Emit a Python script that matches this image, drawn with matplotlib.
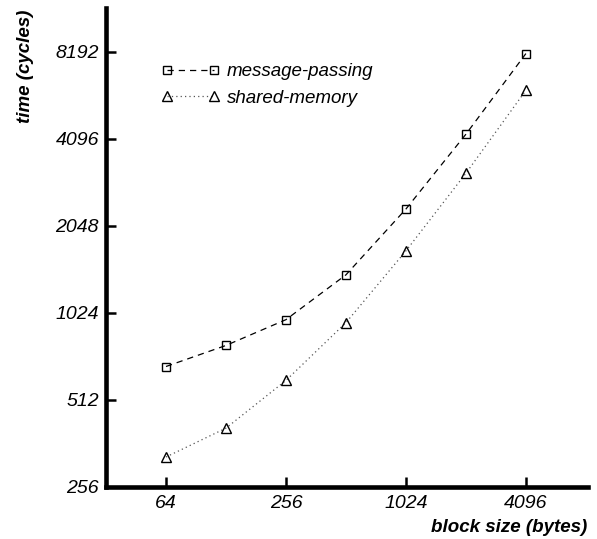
import matplotlib
matplotlib.use("Agg")
import matplotlib.pyplot as plt
from matplotlib.ticker import FixedLocator, NullLocator

plt.rcParams["font.family"] = ["Liberation Sans", "DejaVu Sans"]

block_sizes = [64, 128, 256, 512, 1024, 2048, 4096]
message_passing = [668, 790, 970, 1386, 2340, 4245, 8065]
shared_memory = [325, 409, 598, 947, 1677, 3110, 6020]

x_ticks = [64, 256, 1024, 4096]
y_ticks = [256, 512, 1024, 2048, 4096, 8192]

fig = plt.figure(figsize=(5.97, 5.39), dpi=100)
ax = fig.add_axes([0.1776, 0.0965, 0.8074, 0.8885])

ax.plot(block_sizes, message_passing, color="black", linestyle=(0, (5, 4)), linewidth=0.9,
        marker="s", markersize=6.3, markerfacecolor="none", markeredgecolor="black",
        markeredgewidth=1.0, label="message-passing")
ax.plot(block_sizes, shared_memory, color="#555555", linestyle=(0, (1, 2.5)), linewidth=0.9,
        marker="^", markersize=7, markerfacecolor="none", markeredgecolor="black",
        markeredgewidth=1.0, label="shared-memory")

ax.set_xscale("log", base=2)
ax.set_yscale("log", base=2)
ax.set_xlim(32, 8400)
ax.set_ylim(256, 11585)

ax.xaxis.set_major_locator(FixedLocator(x_ticks))
ax.yaxis.set_major_locator(FixedLocator(y_ticks))
ax.xaxis.set_minor_locator(NullLocator())
ax.yaxis.set_minor_locator(NullLocator())
ax.set_xticklabels([str(v) for v in x_ticks], fontsize=14, fontstyle="italic")
ax.set_yticklabels([str(v) for v in y_ticks], fontsize=14, fontstyle="italic")
ax.tick_params(direction="in", length=7, width=1.8, pad=5)
ax.tick_params(axis="x", pad=6)

for side in ["top", "right"]:
    ax.spines[side].set_visible(False)
for side in ["left", "bottom"]:
    ax.spines[side].set_linewidth(3.3)
    ax.spines[side].set_capstyle("projecting")

ax.legend(loc="upper left", bbox_to_anchor=(0.08, 0.92), frameon=False, numpoints=2,
          handlelength=3.1, handletextpad=0.4, labelspacing=0.5,
          prop={"size": 13.5, "style": "italic"})

fig.text(0.042, 0.983, "time (cycles)", rotation=90, ha="center", va="top",
         fontsize=13.5, fontstyle="italic", fontweight="bold")
fig.text(0.983, 0.022, "block size (bytes)", ha="right", va="center",
         fontsize=13.5, fontstyle="italic", fontweight="bold")

fig.savefig("out.png", dpi=100)
